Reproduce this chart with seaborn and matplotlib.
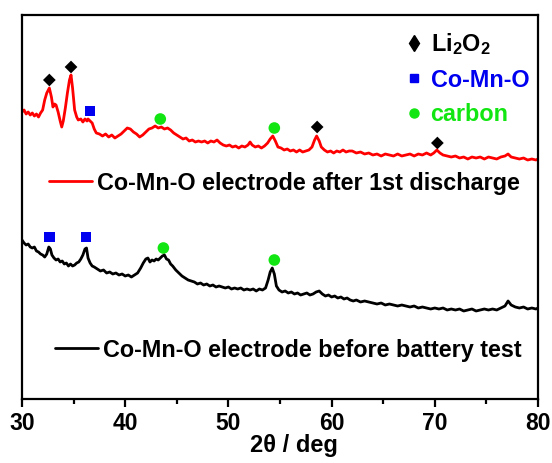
import matplotlib
matplotlib.use("Agg")
import matplotlib.pyplot as plt
from matplotlib.lines import Line2D
import seaborn as sns
import pandas as pd

# ---------------- data ----------------
red_x = [30.0, 30.2, 30.4, 30.6, 30.8, 31.0, 31.2, 31.4, 31.6, 31.8,
         32.0, 32.2, 32.4, 32.65, 32.85, 33.0, 33.15, 33.3, 33.5, 33.7,
         33.85, 34.0, 34.2, 34.4, 34.6, 34.75, 34.9, 35.1, 35.3, 35.45,
         35.7, 35.9, 36.1, 36.3, 36.4, 36.6, 36.8, 37.0, 37.2, 37.5,
         37.8, 38.1, 38.4, 38.7, 39.0, 39.3, 39.6, 39.9, 40.2, 40.5,
         40.8, 41.1, 41.4, 41.7, 42.0, 42.3, 42.6, 42.9, 43.2, 43.5,
         43.8, 44.1, 44.4, 44.7, 45.0, 45.3, 45.6, 45.9, 46.2, 46.5,
         46.8, 47.1, 47.4, 47.7, 48.0, 48.3, 48.6, 48.9, 49.2, 49.5,
         49.8, 50.1, 50.4, 50.7, 51.0, 51.3, 51.6, 51.9, 52.1, 52.3,
         52.6, 52.9, 53.2, 53.5, 53.8, 54.05, 54.3, 54.55, 54.8, 55.1,
         55.4, 55.7, 56.0, 56.3, 56.6, 56.9, 57.2, 57.5, 57.8, 58.1,
         58.35, 58.55, 58.8, 59.0, 59.3, 59.6, 59.9, 60.2, 60.5, 60.8,
         61.1, 61.4, 61.7, 62.0, 62.4, 62.8, 63.2, 63.6, 64.0, 64.4,
         64.8, 65.2, 65.6, 66.0, 66.4, 66.8, 67.2, 67.6, 68.0, 68.4,
         68.8, 69.2, 69.6, 69.9, 70.2, 70.5, 70.8, 71.2, 71.6, 72.0,
         72.4, 72.8, 73.2, 73.6, 74.0, 74.4, 74.8, 75.2, 75.6, 76.0,
         76.4, 76.8, 77.1, 77.4, 77.8, 78.2, 78.6, 79.0, 79.4, 79.8, 80.0]
red_y = [287, 289, 285, 287, 284, 286, 283, 285, 282, 286,
         289, 299, 306, 311, 302, 292, 295, 294, 287, 278,
         272, 278, 291, 306, 319, 324, 311, 289, 282, 279,
         280, 277, 280, 278, 280, 278, 276, 270, 266, 265,
         263, 265, 262, 264, 261, 263, 265, 268, 271, 270,
         267, 265, 262, 264, 267, 270, 271, 273, 271, 272,
         270, 271, 269, 266, 264, 262, 260, 261, 258, 259,
         257, 258, 257, 258, 256, 258, 257, 259, 256, 254,
         253, 254, 252, 253, 251, 253, 252, 254, 257, 254,
         252, 253, 251, 253, 256, 260, 263, 258, 252, 251,
         249, 250, 248, 249, 247, 249, 247, 248, 249, 252,
         259, 263, 258, 252, 249, 247, 248, 246, 248, 247,
         249, 247, 248, 248, 246, 247, 245, 246, 244, 245,
         243, 245, 244, 243, 245, 243, 244, 245, 243, 245,
         244, 246, 244, 246, 249, 246, 244, 243, 242, 243,
         241, 242, 240, 242, 241, 242, 240, 242, 241, 240,
         242, 243, 245, 242, 241, 240, 241, 239, 240, 239, 240]

black_x = [30.0, 30.2, 30.4, 30.6, 30.8, 31.0, 31.2, 31.4, 31.6, 31.8,
           32.0, 32.2, 32.4, 32.6, 32.75, 32.9, 33.1, 33.3, 33.5, 33.7,
           33.9, 34.1, 34.3, 34.5, 34.7, 34.9, 35.1, 35.3, 35.5, 35.7,
           35.9, 36.1, 36.25, 36.4, 36.6, 36.8, 37.0, 37.3, 37.6, 37.9,
           38.2, 38.5, 38.8, 39.1, 39.4, 39.7, 40.0, 40.3, 40.6, 40.9,
           41.2, 41.5, 41.75, 42.0, 42.2, 42.4, 42.6, 42.8, 43.0, 43.2,
           43.4, 43.6, 43.8, 44.0, 44.2, 44.4, 44.6, 44.9, 45.2, 45.5,
           45.8, 46.1, 46.4, 46.7, 47.0, 47.3, 47.6, 47.9, 48.2, 48.5,
           48.8, 49.1, 49.4, 49.7, 50.0, 50.3, 50.6, 50.9, 51.2, 51.5,
           51.8, 52.1, 52.4, 52.7, 53.0, 53.3, 53.6, 53.85, 54.05, 54.25,
           54.45, 54.65, 54.9, 55.2, 55.5, 55.8, 56.1, 56.4, 56.7, 57.0,
           57.3, 57.6, 57.9, 58.2, 58.5, 58.8, 59.1, 59.4, 59.7, 60.0,
           60.3, 60.6, 60.9, 61.2, 61.5, 61.8, 62.1, 62.4, 62.8, 63.2,
           63.6, 64.0, 64.4, 64.8, 65.2, 65.6, 66.0, 66.4, 66.8, 67.2,
           67.6, 68.0, 68.4, 68.8, 69.2, 69.6, 70.0, 70.4, 70.8, 71.2,
           71.6, 72.0, 72.4, 72.8, 73.2, 73.6, 74.0, 74.4, 74.8, 75.2,
           75.6, 76.0, 76.4, 76.8, 77.1, 77.4, 77.8, 78.2, 78.6, 79.0,
           79.4, 79.8, 80.0]
black_y = [159, 156, 154, 155, 152, 151, 152, 148, 147, 145,
           144, 142, 145, 152, 150, 144, 141, 139, 140, 137,
           138, 135, 136, 133, 135, 133, 134, 136, 137, 140,
           144, 150, 151, 141, 136, 133, 132, 130, 128, 129,
           126, 127, 125, 126, 124, 125, 123, 124, 122, 124,
           126, 131, 136, 140, 141, 137, 139, 138, 140, 139,
           141, 143, 144, 140, 139, 135, 133, 129, 126, 123,
           121, 119, 118, 117, 115, 116, 114, 115, 113, 114,
           112, 113, 112, 111, 112, 110, 111, 110, 111, 109,
           110, 109, 110, 108, 110, 109, 111, 119, 127, 131,
           125, 113, 109, 107, 108, 106, 107, 105, 106, 104,
           105, 106, 104, 105, 107, 108, 105, 103, 104, 102,
           103, 101, 102, 100, 101, 99, 98, 99, 97, 98,
           97, 96, 95, 96, 94, 95, 94, 93, 94, 93,
           92, 93, 91, 92, 91, 90, 91, 90, 91, 89,
           90, 89, 90, 88, 89, 90, 88, 89, 90, 89,
           90, 89, 91, 93, 98, 94, 92, 91, 92, 90,
           91, 90, 91]

# phase markers
li2o2_x = [32.65, 34.75, 58.6, 70.25]
li2o2_y = [319, 332, 272, 256]
cmo_x = [36.6, 32.7, 36.2]
cmo_y = [288, 162, 162]
carbon_x = [43.4, 54.45, 43.7, 54.45]
carbon_y = [280, 271, 151, 139]

series_labels = ["Co-Mn-O electrode after 1st discharge",
                 "Co-Mn-O electrode before battery test"]
phase_labels = ["Li$_2$O$_2$", "Co-Mn-O", "carbon"]
xticks = [30, 40, 50, 60, 70, 80]
xlabel = "2\u03b8 / deg"

RED = "#FF0000"
BLUE = "#0000F0"
GREEN = "#12E612"

# ---------------- style ----------------
sns.set_style("white")
plt.rcParams["font.family"] = ["Liberation Sans", "DejaVu Sans"]
plt.rcParams["font.weight"] = "bold"
plt.rcParams["mathtext.default"] = "regular"
plt.rcParams["text.color"] = "black"
plt.rcParams["axes.labelcolor"] = "black"
plt.rcParams["xtick.color"] = "black"

fig = plt.figure(figsize=(5.52, 4.63), dpi=100)
ax = fig.add_axes([22 / 552, 1 - 399 / 463, 516 / 552, 384.2 / 463])

df_red = pd.DataFrame({"x": red_x, "y": red_y})
df_black = pd.DataFrame({"x": black_x, "y": black_y})
sns.lineplot(data=df_red, x="x", y="y", ax=ax, color=RED, lw=2.0,
             estimator=None, sort=False)
sns.lineplot(data=df_black, x="x", y="y", ax=ax, color="black", lw=2.0,
             estimator=None, sort=False)

sns.scatterplot(x=li2o2_x, y=li2o2_y, ax=ax, marker="D", s=42,
                color="black", edgecolor="none")
sns.scatterplot(x=cmo_x, y=cmo_y, ax=ax, marker="s", s=60,
                color=BLUE, edgecolor="none")
sns.scatterplot(x=carbon_x, y=carbon_y, ax=ax, marker="o", s=70,
                color=GREEN, edgecolor="none")

ax.set_xlim(30, 80)
ax.set_ylim(0, 384.2)
ax.set_xticks(xticks)
ax.set_xticks([35, 45, 55, 65, 75], minor=True)
ax.set_yticks([])
ax.set_xticklabels([str(t) for t in xticks], fontsize=16.5, fontweight="bold")
ax.tick_params(axis="x", which="major", direction="out", length=6,
               width=1.6, bottom=True, top=False, pad=3.5)
ax.tick_params(axis="x", which="minor", direction="out", length=3.5,
               width=1.6, bottom=True, top=False)
ax.set_xlabel(xlabel, fontsize=17, fontweight="bold", labelpad=0)
ax.set_ylabel("")
ax.xaxis.set_label_coords(0.527, -0.09)
for sp in ax.spines.values():
    sp.set_linewidth(1.6)
    sp.set_color("black")

# series legends
leg1 = ax.legend(handles=[Line2D([], [], color=RED, lw=2)],
                 labels=[series_labels[0]], loc="center left",
                 bbox_to_anchor=(0.052, 0.562), frameon=False,
                 borderpad=0, borderaxespad=0, handlelength=1.85,
                 handletextpad=0.22, labelcolor="black",
                 prop={"size": 16.8, "weight": "bold"})
ax.add_artist(leg1)
leg2 = ax.legend(handles=[Line2D([], [], color="black", lw=2)],
                 labels=[series_labels[1]], loc="center left",
                 bbox_to_anchor=(0.064, 0.1275), frameon=False,
                 borderpad=0, borderaxespad=0, handlelength=1.85,
                 handletextpad=0.22, labelcolor="black",
                 prop={"size": 16.8, "weight": "bold"})
ax.add_artist(leg2)

# phase legend
ph = [Line2D([], [], ls="", marker="d", ms=8, color="black"),
      Line2D([], [], ls="", marker="s", ms=5.5, color=BLUE),
      Line2D([], [], ls="", marker="o", ms=6.5, color=GREEN)]
leg3 = ax.legend(handles=ph, labels=phase_labels, loc="upper left",
                 bbox_to_anchor=(0.742, 0.958), frameon=False,
                 borderpad=0, borderaxespad=0, handlelength=0.8,
                 handletextpad=0.3, labelspacing=0.5,
                 labelcolor=["black", BLUE, GREEN],
                 prop={"size": 16.8, "weight": "bold"})

fig.savefig("out.png", dpi=100)
